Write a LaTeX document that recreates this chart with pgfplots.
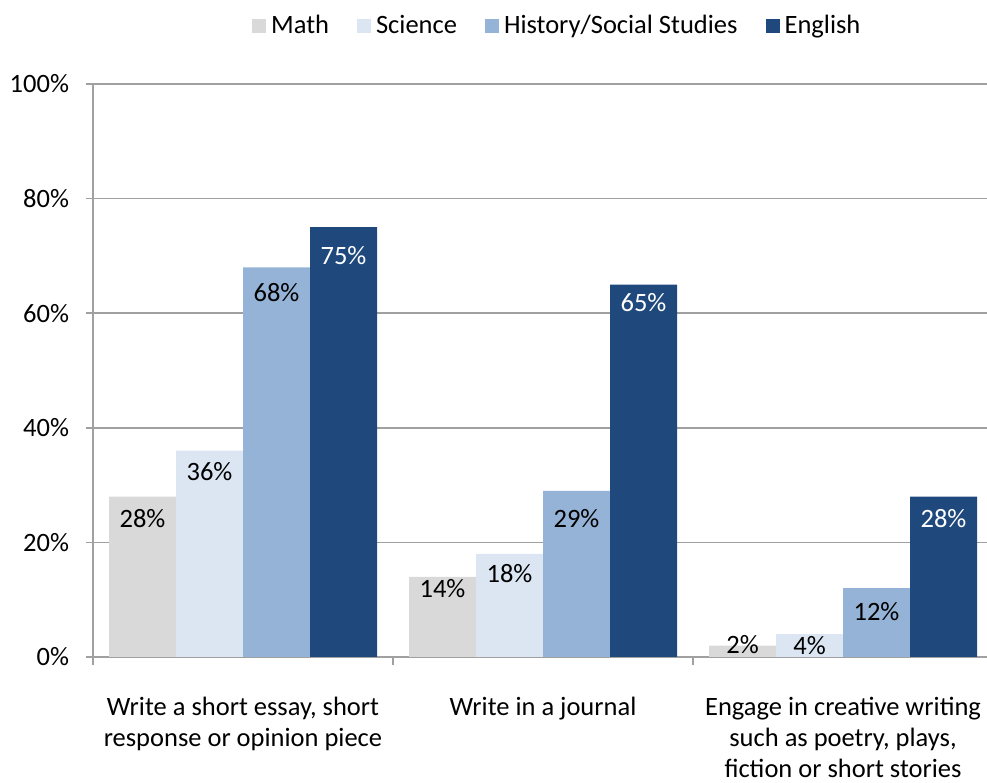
\documentclass[border=0pt]{standalone}
\usepackage{pgfplots}
\pgfplotsset{compat=1.18}
\usepackage{fontspec}
\setmainfont{Carlito}
\definecolor{cMath}{HTML}{D9D9D9}
\definecolor{cSci}{HTML}{DCE6F2}
\definecolor{cHist}{HTML}{95B3D7}
\definecolor{cEng}{HTML}{1F497D}
\definecolor{cGrid}{HTML}{A0A0A0}
% x = group, y = value, off = shift of the label baseline below the bar top
\pgfplotstableread{
x y off
0 28 -31
1 14 -21
2 2 -8
}\mathdata
\pgfplotstableread{
x y off
0 36 -30
1 18 -29
2 4 -20
}\scidata
\pgfplotstableread{
x y off
0 68 -34
1 29 -37
2 12 -32
}\histdata
\pgfplotstableread{
x y off
0 75 -37
1 65 -27
2 28 -31
}\engdata
\begin{document}
\fontsize{26.5}{31}\selectfont
\begin{tikzpicture}
\path[use as bounding box] (0,0) rectangle (987pt,783pt);
\begin{axis}[
    at={(93pt,126pt)}, anchor=south west,
    scale only axis,
    width=894pt, height=573pt,
    xmin=-0.5, xmax=2.48,
    ymin=0, ymax=100,
    ybar=0pt, bar width=67pt,
    axis line style={cGrid, line width=1.5pt},
    axis x line*=bottom, axis y line*=left,
    ytick={0,20,40,60,80,100},
    yticklabel={\pgfmathprintnumber{\tick}\%},
    ymajorgrids, grid style={cGrid, line width=1.5pt},
    xtick={0,1,2},
    xticklabels={{Write a short essay, short\\response or opinion piece},
                 {Write in a journal},
                 {Engage in creative writing\\such as poetry, plays,\\fiction or short stories}},
    xticklabel style={align=center, anchor=north, inner sep=0pt, yshift=-40pt,
        font=\fontsize{26.5}{31}\selectfont},
    extra x ticks={-0.5,0.5,1.5,2.5},
    extra x tick labels={},
    extra x tick style={major tick length=8pt, tick align=outside, tick style={cGrid, line width=1.5pt}},
    major tick length=0pt,
    extra y ticks={0,20,40,60,80,100},
    extra y tick labels={},
    extra y tick style={major tick length=7pt, tick align=outside, tick style={draw=cGrid, line width=1.5pt}},
    yticklabel style={font=\fontsize{26.5}{31}\selectfont, xshift=-15pt},
    /pgf/number format/assume math mode=true,
    nodes near coords={\pgfmathprintnumber{\pgfplotspointmeta}\%},
    nodes near coords style={font=\fontsize{26.5}{31}\selectfont, anchor=base},
    visualization depends on={\thisrow{off} \as \off},
    every node near coord/.append style={yshift=\off pt},
    legend columns=4,
    legend style={draw=none, at={(0.521,1.101)}, anchor=center,
        font=\fontsize{26.5}{31}\selectfont,
        /tikz/every even column/.append style={column sep=23pt},
        nodes={inner xsep=5pt}},
    legend image code/.code={\fill[#1,draw=none] (0pt,-7pt) rectangle (14pt,7pt);},
    clip=false,
]
\addplot[fill=cMath, draw=none] table[x=x, y=y] {\mathdata};
\addlegendentry{Math}
\addplot[fill=cSci, draw=none] table[x=x, y=y] {\scidata};
\addlegendentry{Science}
\addplot[fill=cHist, draw=none] table[x=x, y=y] {\histdata};
\addlegendentry{History/Social Studies}
\addplot[fill=cEng, draw=none, nodes near coords style={text=white}] table[x=x, y=y] {\engdata};
\addlegendentry{English}
\end{axis}
\end{tikzpicture}
\end{document}
